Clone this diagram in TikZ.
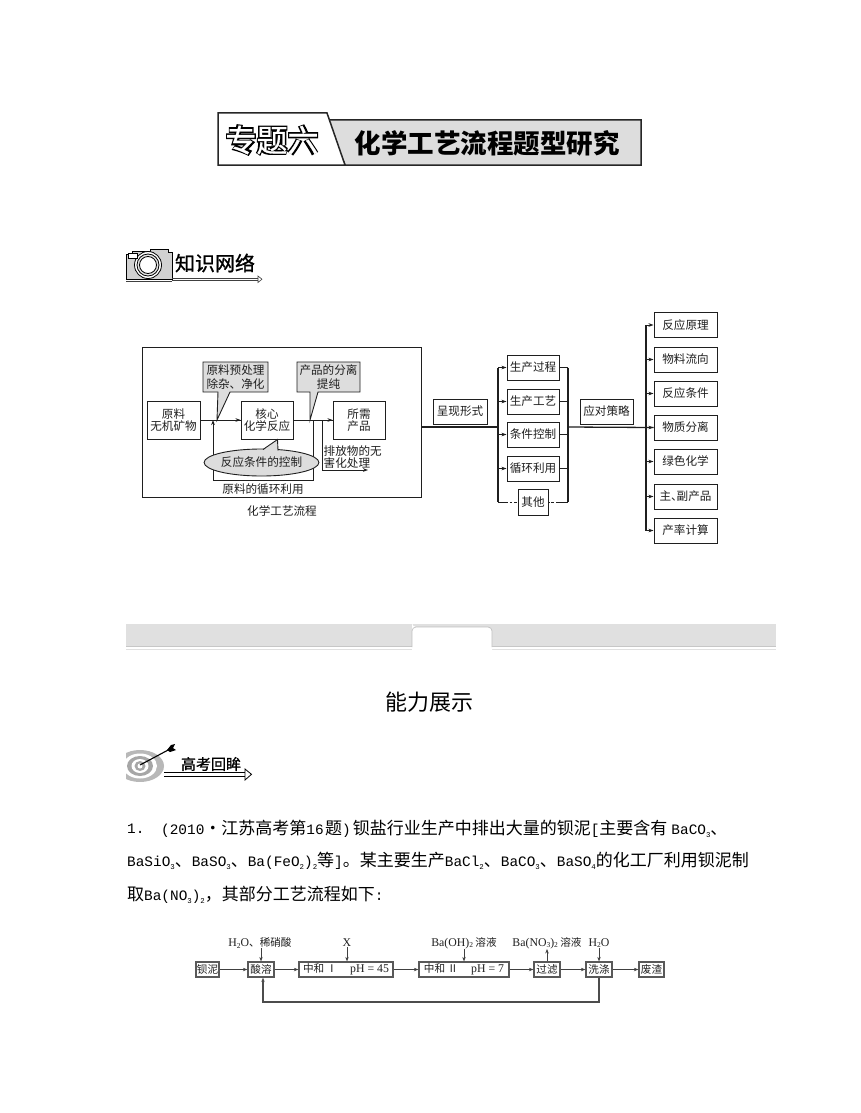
\documentclass[tikz,border=0pt]{standalone}
\usepackage{fontspec}
\usetikzlibrary{arrows.meta,shapes.geometric,calc}
\setmainfont{Noto Sans CJK SC}
\newfontfamily\latm{Liberation Mono}
\newfontfamily\lats{Liberation Serif}
\newfontfamily\cjkfat[BoldFeatures={FakeBold=5}]{Noto Sans CJK SC}
\newfontfamily\cjkmid[FakeBold=1]{Noto Sans CJK SC}
\newcommand\fs[1]{\fontsize{#1}{#1}\selectfont}
\newcommand\mm[1]{{\latm\fs{14.4}#1}}
\newcommand\sbm[1]{\raisebox{-2.5pt}{\latm\fs{7.4}#1}}
\newcommand\sbx[1]{\raisebox{-1.5pt}{\lats\fs{7.5}#1}}
\newcommand\sr[1]{{\lats\fs{11.8}#1}}
\colorlet{ink}{black!88}
\definecolor{panel}{HTML}{DDDDDD}
\tikzset{
 lab/.style={font=\fs{11.6},text=ink,inner sep=0,align=center},
 boxa/.style={draw=ink,line width=1pt,fill=white,inner sep=0,font=\fs{11.6},text=ink,align=center},
 boxg/.style={boxa,minimum width=52pt,minimum height=25pt},
 boxr/.style={boxa,minimum width=63pt,minimum height=25pt},
 boxb/.style={draw=black!65,line width=1.2pt,fill=white,inner sep=0,font=\fs{10.6},text=ink,minimum height=15pt},
 lnk/.style={draw=ink,line width=1pt},
 arr/.style={lnk,-{Stealth[length=5pt,width=3.6pt]}},
 fine/.style={lab,font=\fs{10.6},text=ink},
 para/.style={anchor=west,inner sep=0,font=\fs{17},text=black},
 dbl/.style={draw=black!75,line width=.6pt},
 fa/.style={draw=black!75,line width=.8pt,-{Stealth[length=4.5pt,width=3.4pt]}},
}
\begin{document}
\begin{tikzpicture}[x=1pt,y=-1pt]
\useasboundingbox (0,0) rectangle (860,1113);
\fill[white] (0,0) rectangle (860,1113);
% ---- banner
\draw[fill=panel,line width=1.5pt,draw=black!85] (327,120) -- (641,120) -- (641,165) -- (345,165) -- cycle;
\draw[fill=white,line width=1.5pt,draw=black!85] (218,113) -- (327,113) -- (345,165) -- (218,165) -- cycle;
\node[inner sep=0,font=\cjkfat\bfseries\fs{31},text=black] (t1s) at (272,140) {专题六};
\node[inner sep=0,font=\cjkmid\fs{31},text=white] (t1) at (272,140) {专题六};
\node[inner sep=0,font=\bfseries\fs{26.5},text=black] (t2) at (487,143) {化学工艺流程题型研究};
% ---- camera
\draw[fill=black!18,line width=.8pt] (126,254) -- (132,254) -- (132,251) -- (150,251) -- (150,249) -- (168,249) -- (168,252) -- (172,252) -- (172,279) -- (126,279) -- cycle;
\draw[line width=.8pt,fill=white] (148,265) circle (13.5);
\draw[line width=.8pt,fill=black!10] (148,265) circle (11);
\draw[line width=.8pt,fill=white] (148,265) circle (8.5);
\draw[fill=white,line width=.6pt] (128,253) rectangle (137,258);
\node[inner sep=0,font=\cjkmid\fs{20},text=black] (kn) at (215,263) {知识网络};
\draw[dbl] (126,281) -- (172,281);
\draw[dbl] (172,278) -- (258,278) (172,280.5) -- (258,280.5);
\draw[dbl,fill=white] (258,276) -- (262,279.2) -- (258,282.5) -- cycle;
% ---- left frame
\node[draw=ink,line width=1pt,minimum width=279pt,minimum height=150pt,inner sep=0] (frame) at (281.5,422.5) {};
\node[boxa,minimum width=53pt,minimum height=38pt] (raw) at (173.5,420) {原料\\无机矿物};
\node[boxa,minimum width=52pt,minimum height=38pt] (core) at (267,420) {核心\\化学反应};
\node[boxa,minimum width=52pt,minimum height=38pt] (prod) at (359,420) {所需\\产品};
\coordinate (tip1) at (217,420);
\coordinate (tip2) at (310,420);
\coordinate (back) at (313,420);
\coordinate (emit) at (322,420);
\coordinate (emitd) at (322,470);
\coordinate (emite) at (368,470);
\coordinate (backb) at (313,480);
\coordinate (backc) at (213,480);
\coordinate (backt) at (213,420);
\draw[lnk] (raw.east) -- (core.west);
\draw[arr] (tip1) -- (core.west);
\draw[lnk] (core.east) -- (prod.west);
\draw[arr] (emit) -- (prod.west);
\draw[lnk] (back) -- (backb) -- (backc);
\draw[arr] (backc) -- (backt);
\draw[lnk] (emit) -- (emitd);
\draw[arr] (emitd) -- (emite);
\filldraw[fill=panel,draw=ink,line width=.9pt] (203,362) -- (268,362) -- (268,392) -- (230,392) -- (tip1) -- (218,392) -- (203,392) -- cycle;
\node[lab] (c1) at (235.5,377) {原料预处理\\[2pt]除杂、净化};
\filldraw[fill=panel,draw=ink,line width=.9pt] (297,362) -- (360,362) -- (360,392) -- (318,392) -- (tip2) -- (310,392) -- (297,392) -- cycle;
\node[lab] (c2) at (328.5,377) {产品的分离\\[2pt]提纯};
\node[ellipse,draw=ink,fill=panel,line width=.9pt,minimum width=93pt,minimum height=27pt,inner sep=0,font=\fs{11.6},text=ink] (cond) at (261.5,462.5) {反应条件的控制};
\fill[panel] (263,450.5) -- (277.5,439.5) -- (278,451) -- cycle;
\draw[ink,line width=.9pt] (263,449.5) -- (277.5,439.5) -- (278,450.5);
\node[lab,anchor=west,align=left] (emt) at (323.5,457.5) {排放物的无\\[.5pt]害化处理};
\node[lab] (loop) at (263,489) {原料的循环利用};
\node[lab] (cap) at (282,511) {化学工艺流程};
% ---- middle
\node[boxa,minimum width=54pt,minimum height=25pt] (form) at (460,411.5) {呈现形式};
\node[boxg] (g1) at (533,367.5) {生产过程};
\node[boxg] (g2) at (533,401.5) {生产工艺};
\node[boxg] (g3) at (533,434.5) {条件控制};
\node[boxg] (g4) at (533,468.5) {循环利用};
\node[boxa,minimum width=30pt,minimum height=26pt] (g5) at (533,502) {其他};
\coordinate (mainl) at (421,427);
\coordinate (bl) at (498,427);
\coordinate (br) at (568,427);
\coordinate (bltop) at (498,367.5);
\coordinate (blbot) at (498,502);
\coordinate (brtop) at (568,367.5);
\coordinate (brbot) at (568,502);
\draw[lnk,line width=1.3pt] (mainl) -- (bl);
\draw[lnk,line width=1.3pt] (bltop) -- (blbot);
\draw[lnk,line width=1.1pt] (brtop) -- (brbot);
\foreach \n in {g1,g2,g3,g4}{
 \draw[arr] (\n.west -| bltop) -- (\n.west);
 \draw[lnk,line width=.8pt] (\n.east) -- (\n.east -| brtop);
}
\draw[lnk] (blbot) -- ++(7,0);
\draw[lnk,dash pattern=on 2.5pt off 2pt] (blbot) ++(7,0) -- (g5.west);
\draw[lnk] (brbot) -- ++(-10,0);
\draw[lnk,dash pattern=on 2.5pt off 2pt] (brbot) ++(-10,0) -- (g5.east);
% ---- right
\node[boxa,minimum width=53pt,minimum height=25pt] (tact) at (606.5,411.5) {应对策略};
\node[boxr] (r1) at (685.5,325) {反应原理};
\node[boxr] (r2) at (685.5,359.5) {物料流向};
\node[boxr] (r3) at (685.5,393.5) {反应条件};
\node[boxr] (r4) at (685.5,427.5) {物质分离};
\node[boxr] (r5) at (685.5,461.5) {绿色化学};
\node[boxr] (r6) at (685.5,496.5) {主、\hspace{-6pt}副产品};
\node[boxr] (r7) at (685.5,530.5) {产率计算};
\coordinate (rtop) at (646,325);
\coordinate (rbot) at (646,530.5);
\draw[lnk,line width=1.3pt] (br) -- (r4.west);
\draw[lnk,line width=1.2pt] (rtop) -- (rbot);
\foreach \n in {r1,r2,r3,r4,r5,r6,r7}{
 \draw[arr] (\n.west -| rtop) -- (\n.west);
}
% ---- band
\fill[black!12] (126,624) rectangle (776,646);
\draw[black!22,line width=.6pt] (126,646.5) -- (776,646.5);
\draw[black!12,line width=.8pt] (126,649) -- (776,649);
\fill[white] (412,650) -- (412,627) [rounded corners=4pt] -- (412,627) -- (492,627) [sharp corners] -- (492,650) -- cycle;
\draw[black!25,line width=.7pt,rounded corners=4pt] (412,647) -- (412,627) -- (492,627) -- (492,647);
\node[inner sep=0,font=\fs{22},text=black] (head) at (429.5,702) {能力展示};
% ---- target
\begin{scope}
\clip (126,748) rectangle (165,781);
\fill[black!28] (140,766) ellipse (24 and 16);
\fill[white] (140,766) ellipse (17 and 12.5);
\fill[black!35] (140,766) ellipse (13 and 10);
\fill[white] (140,766) ellipse (8.5 and 7);
\fill[black!35] (140,766) ellipse (5.5 and 5);
\fill[white] (140,766) ellipse (2.5 and 2.5);
\end{scope}
\draw[black,line width=1.1pt] (140,765) -- (170,749);
\fill[black] (167,750) -- (171,745) -- (175,744) -- (173,748) -- (176,750) -- (170,752) -- cycle;
\node[inner sep=0,font=\cjkmid\fs{15},text=black] (gk) at (211,764) {高考回眸};
\draw[black,line width=.8pt] (164,772.5) -- (246,772.5) (164,776) -- (246,776);
\draw[black,line width=.8pt,fill=white] (245,769) -- (251.5,774.3) -- (245,780) -- cycle;
% ---- paragraph
\node[para] (p0) at (127,829) {\mm{1.}};
\node[para] (p1) at (161,829) {\mm{(2010}·江苏高考第\mm{16}\hspace{1.5pt}题\mm{)}\hspace{2pt}钡盐行业生产中排出大量的钡泥\mm{[}主要含有\hspace{4pt}\mm{BaCO}\sbm{3}、};
\node[para] (p2) at (127,861) {\mm{BaSiO}\sbm{3}、\mm{BaSO}\sbm{3}、\mm{Ba(FeO}\sbm{2}\mm{)}\sbm{2}等\mm{]}。某主要生产\mm{BaCl}\sbm{2}、\mm{BaCO}\sbm{3}、\mm{BaSO}\sbm{4}的化工厂利用钡泥制};
\node[para] (p3) at (127,895) {取\mm{Ba(NO}\sbm{3}\mm{)}\sbm{2}\char"FF0C 其部分工艺流程如下\mm{:}};
% ---- bottom flow
\node[boxb,minimum width=23pt] (f1) at (207.5,969.5) {钡泥};
\node[boxb,minimum width=26pt] (f2) at (261,969.5) {酸溶};
\node[boxb,minimum width=94pt] (f3) at (346,969.5) {中和\ Ⅰ\hspace{13pt}\sr{pH = 45}};
\node[boxb,minimum width=90pt] (f4) at (464,969.5) {中和\ Ⅱ\hspace{13pt}\sr{pH = 7}};
\node[boxb,minimum width=26pt] (f5) at (547,969.5) {过滤};
\node[boxb,minimum width=26pt] (f6) at (599,969.5) {洗涤};
\node[boxb,minimum width=25pt] (f7) at (651.5,969.5) {废渣};
\node[fine] (l1) at (260,943) {\sr{H\sbx{2}O}、稀硝酸};
\node[fine] (l2) at (347,943) {\sr{X}};
\node[fine] (l3) at (464,943) {\sr{Ba(OH)\sbx{2}} 溶液};
\node[fine] (l4) at (547,943) {\sr{Ba(NO\sbx{3})\sbx{2}} 溶液};
\node[fine] (l5) at (599,943) {\sr{H\sbx{2}O}};
\draw[fa] (f1) -- (f2);
\draw[fa] (f2) -- (f3);
\draw[fa] (f3) -- (f4);
\draw[fa] (f4) -- (f5);
\draw[fa] (f5) -- (f6);
\draw[fa] (f6) -- (f7);
\draw[fa] (l1.south -| f2) -- (f2.north);
\draw[fa] (l2.south) -- (l2.south |- f3.north);
\draw[fa] (l3.south) -- (f4.north);
\draw[fa] (f5.north) -- (l4.south);
\draw[fa] (l5.south) -- (f6.north);
\coordinate (rb) at (599,1002);
\coordinate (rc) at (263,1002);
\draw[draw=black!70,line width=1.1pt,-{Stealth[length=4.5pt,width=3.4pt]}] (f6.south) -- (rb) -- (rc) -- (rc |- f2.south);
\end{tikzpicture}
\end{document}
